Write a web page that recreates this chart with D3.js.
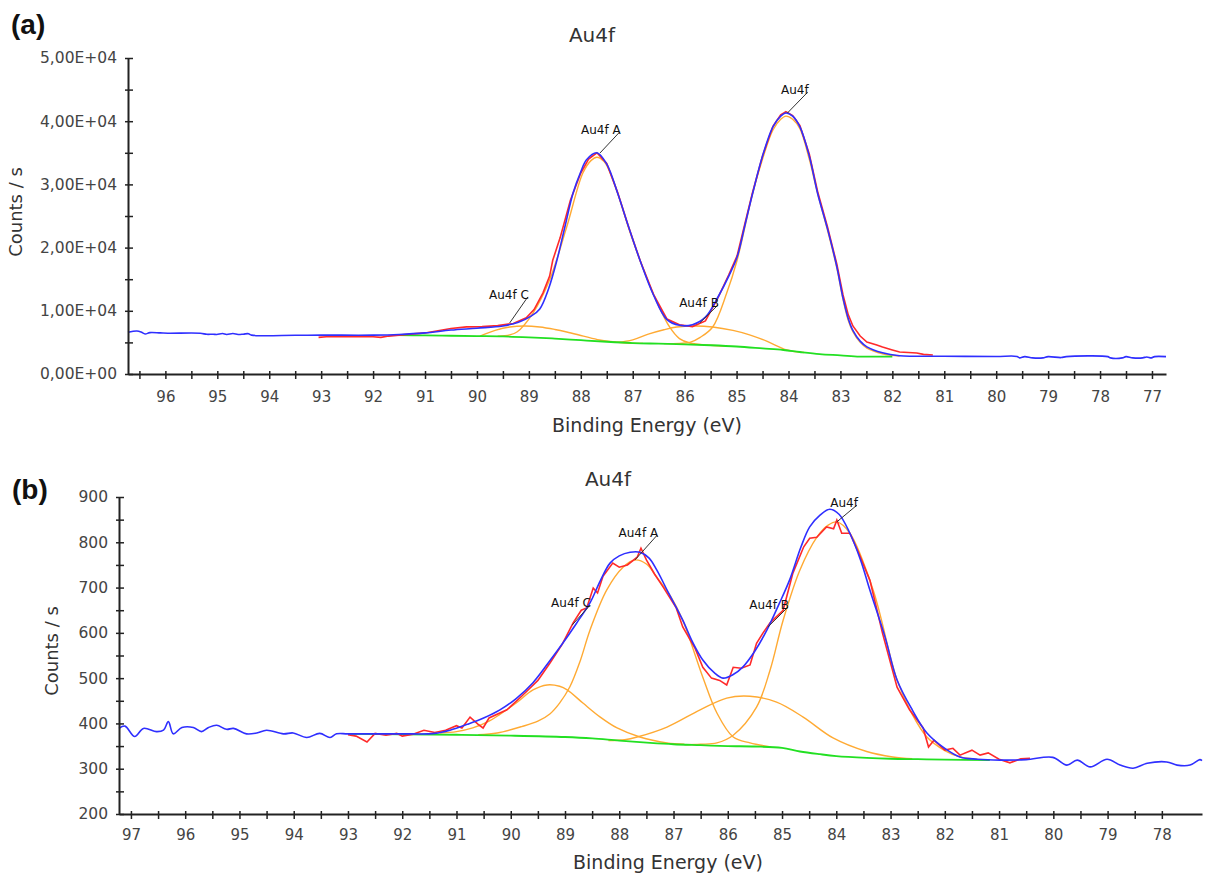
<!DOCTYPE html>
<html><head><meta charset="utf-8">
<script src="https://cdn.jsdelivr.net/npm/d3@7/dist/d3.min.js"></script>
<style>body{margin:0;background:#fff}</style>
</head><body>
<svg id="c" width="1207" height="876"></svg>
<script>
// ---------------- Panel (a) data ----------------
const xTicksA = [96,95,94,93,92,91,90,89,88,87,86,85,84,83,82,81,80,79,78,77];
const yTicksA = [0,10000,20000,30000,40000,50000];
const yTickLabelsA = ["0,00E+00","1,00E+04","2,00E+04","3,00E+04","4,00E+04","5,00E+04"];

const envelopeA = [[96.72,6600],[96.55,6800],[96.47,6650],[96.39,6330],[96.3,6550],[96.1,6500],[95.95,6450],[95.33,6450],[95.2,6280],[95.08,6300],[95.01,6250],[94.9,6400],[94.82,6250],[94.7,6400],[94.6,6250],[94.5,6300],[94.4,6380],[94.34,6150],[93.5,6120],[93.0,6150],[92.0,6150],[91.5,6250],[91.0,6500],[90.5,6950],[90.0,7250],[89.5,7600],[89.2,8200],[88.95,9200],[88.79,10300],[88.62,13500],[88.46,18000],[88.3,23500],[88.15,28600],[88.0,32000],[87.89,33900],[87.69,35000],[87.5,33200],[87.29,28600],[87.08,23300],[86.86,18000],[86.6,12500],[86.34,8600],[86.1,7700],[85.85,7800],[85.6,9000],[85.35,12300],[85.15,15500],[84.99,18500],[84.84,23500],[84.69,28600],[84.5,34500],[84.3,39100],[84.15,40800],[84.05,41300],[83.92,40800],[83.78,39100],[83.6,34500],[83.44,28600],[83.25,23000],[83.07,17000],[82.95,12000],[82.85,8800],[82.76,6900],[82.62,5200],[82.49,4300],[82.19,3350],[81.86,2900],[81.0,2800],[80.0,2780],[79.6,2780],[79.55,2550],[79.45,2750],[79.3,2550],[79.1,2550],[79.0,2750],[78.75,2600],[78.65,2750],[77.85,2750],[77.8,2550],[77.57,2550],[77.5,2750],[77.37,2550],[77.18,2550],[77.1,2700],[77.01,2550],[76.95,2750],[76.73,2750]];
const rawA = [[93.05,5800],[92.9,5900],[92.0,5900],[91.85,5800],[91.7,6000],[91.5,6150],[91.0,6500],[90.5,7200],[90.2,7450],[89.9,7500],[89.6,7650],[89.3,8000],[89.05,8900],[88.9,10200],[88.73,12800],[88.6,15500],[88.54,18000],[88.4,21500],[88.2,27500],[88.0,31800],[87.85,34000],[87.69,35000],[87.5,33300],[87.29,28700],[87.08,23300],[86.86,18000],[86.6,12600],[86.34,8700],[86.1,7800],[85.85,7500],[85.6,8400],[85.35,12200],[85.15,15700],[84.99,18700],[84.84,23800],[84.69,28800],[84.5,34500],[84.3,39200],[84.15,41000],[84.05,41500],[83.92,40900],[83.78,39300],[83.6,34800],[83.44,28900],[83.25,23300],[83.07,17400],[82.95,12500],[82.85,9400],[82.76,7600],[82.62,6000],[82.49,5060],[82.3,4600],[82.19,4270],[82.0,3800],[81.86,3480],[81.53,3320],[81.4,3100],[81.22,3000]];
const backgroundA = [[91.55,6150],[91.0,6100],[90.5,6050],[90.0,6000],[89.5,5950],[89.0,5800],[88.5,5600],[88.0,5350],[87.5,5100],[87.0,4900],[86.5,4800],[86.0,4700],[85.5,4550],[85.0,4350],[84.5,4050],[84.1,3800],[83.78,3480],[83.4,3150],[83.0,2950],[82.63,2750],[82.2,2750],[82.0,2750]];
const au4fCA = [[89.94,6000],[89.65,6900],[89.37,7440],[89.08,7600],[88.79,7440],[88.5,7050],[88.27,6650],[87.95,6000],[87.64,5380],[87.35,5100],[87.12,4900],[86.8,4850]];
const au4fBA = [[87.3,5000],[87.0,5400],[86.7,6300],[86.4,7000],[86.15,7440],[85.8,7600],[85.46,7440],[85.07,6900],[84.75,6200],[84.42,5200],[84.03,3800],[83.7,3400]];
const au4fAA = [[89.6,6000],[89.37,6200],[89.23,6650],[88.92,9650],[88.6,14900],[88.27,23300],[87.96,31800],[87.8,33800],[87.69,34300],[87.55,33600],[87.38,30700],[87.0,21200],[86.61,12800],[86.29,7440],[86.1,5600],[85.9,4900],[85.5,4550],[85.2,4400]];
const au4fA = [[86.4,4800],[86.1,4850],[85.9,5000],[85.7,5800],[85.46,7440],[85.19,12800],[84.99,18000],[84.69,28600],[84.5,34000],[84.3,38600],[84.15,40300],[84.05,40800],[83.92,40300],[83.78,38800],[83.6,34000],[83.44,28600],[83.25,22800],[83.07,16800],[82.95,11800],[82.85,8500],[82.76,6700],[82.62,5000],[82.49,4100],[82.19,3200],[81.86,2850]];
const labelsA = [
  {text:"Au4f A", from:[87.25,38300], to:[87.63,34970]},
  {text:"Au4f",   from:[83.63,44600], to:[84.02,41300]},
  {text:"Au4f C", from:[89.02,12200], to:[89.37,8070]},
  {text:"Au4f B", from:[85.36,10900], to:[85.71,8070]}
];

// ---------------- Panel (b) data ----------------
const xTicksB = [97,96,95,94,93,92,91,90,89,88,87,86,85,84,83,82,81,80,79,78];
const yTicksB = [200,300,400,500,600,700,800,900];
const yTickLabelsB = ["200","300","400","500","600","700","800","900"];

const envelopeB = [[97.22,389],[97.11,394],[96.93,371],[96.77,389],[96.53,382],[96.4,385],[96.31,404],[96.22,377],[96.06,391],[95.85,391],[95.7,382],[95.57,391],[95.42,396],[95.24,387],[95.11,389],[94.87,377],[94.68,379],[94.5,385],[94.19,377],[94.01,379],[93.76,369],[93.52,378],[93.33,369],[93.21,377],[93.0,377],[92.0,377],[91.4,378],[91.12,385],[90.8,398],[90.5,412],[90.2,430],[89.9,455],[89.59,490],[89.3,535],[88.96,591],[88.75,628],[88.54,666],[88.35,715],[88.17,754],[88.0,770],[87.8,778],[87.62,778],[87.45,765],[87.31,739],[87.1,690],[86.83,628],[86.65,580],[86.46,540],[86.25,512],[86.09,500],[85.9,508],[85.72,525],[85.5,560],[85.28,606],[85.05,665],[84.86,717],[84.65,790],[84.49,834],[84.3,860],[84.12,873],[83.95,862],[83.75,820],[83.55,760],[83.38,694],[83.1,590],[82.88,496],[82.6,430],[82.33,379],[82.0,345],[81.72,326],[81.4,321],[80.98,319],[80.5,320],[80.01,325],[79.75,308],[79.56,319],[79.32,304],[79.01,321],[78.77,308],[78.53,301],[78.27,312],[77.91,315],[77.72,308],[77.48,308],[77.3,320],[77.26,318]];
const rawB = [[93.0,375],[92.85,372],[92.65,359],[92.5,378],[92.3,374],[92.1,378],[92.0,372],[91.8,376],[91.6,385],[91.4,380],[91.2,385],[91.0,395],[90.9,390],[90.75,414],[90.6,398],[90.51,390],[90.4,412],[90.07,430],[89.8,460],[89.5,495],[89.28,533],[89.05,575],[88.85,622],[88.7,650],[88.6,655],[88.48,699],[88.4,688],[88.3,725],[88.12,754],[88.0,745],[87.85,750],[87.67,767],[87.6,787],[87.5,761],[87.35,730],[87.19,701],[86.95,655],[86.83,613],[86.6,565],[86.46,524],[86.3,500],[86.15,495],[86.02,485],[85.9,524],[85.75,522],[85.59,529],[85.47,577],[85.35,600],[85.22,622],[84.98,650],[84.8,732],[84.6,790],[84.49,809],[84.36,811],[84.18,834],[84.05,830],[83.99,849],[83.9,820],[83.75,820],[83.6,780],[83.38,716],[83.15,600],[82.88,480],[82.65,430],[82.4,390],[82.3,348],[82.2,363],[82.0,341],[81.85,345],[81.72,330],[81.5,341],[81.35,330],[81.2,335],[81.0,321],[80.8,313],[80.6,322],[80.43,323]];
const backgroundB = [[93.0,377],[92.0,376],[91.0,375],[90.0,373],[89.0,370],[88.5,367],[88.0,362],[87.43,357],[87.0,354],[86.5,352],[86.0,350],[85.5,349],[85.0,346],[84.67,338],[84.3,332],[84.0,328],[83.44,324],[83.0,322],[82.5,321],[82.0,320],[81.17,319]];
const au4fCB = [[91.3,379],[91.0,382],[90.7,390],[90.4,405],[90.2,420],[89.9,445],[89.59,474],[89.33,485],[89.1,482],[88.96,474],[88.67,445],[88.35,414],[88.04,390],[87.62,370],[87.12,357],[86.8,354]];
const au4fAB = [[90.6,375],[90.25,379],[89.8,393],[89.5,405],[89.28,421],[89.1,445],[88.91,481],[88.72,538],[88.54,606],[88.23,695],[87.93,745],[87.71,761],[87.5,752],[87.31,723],[87.05,680],[86.83,628],[86.46,502],[86.2,423],[85.9,370],[85.59,357],[85.2,348]];
const au4fBB = [[88.2,362],[87.9,364],[87.67,370],[87.12,392],[86.51,430],[86.02,456],[85.59,460],[85.1,447],[84.61,414],[84.06,368],[83.44,338],[82.96,326],[82.6,322]];
const au4fB = [[86.8,353],[86.5,354],[86.2,357],[85.9,374],[85.47,436],[85.22,518],[84.98,628],[84.67,739],[84.36,811],[84.15,838],[83.99,845],[83.75,820],[83.32,694],[82.88,496],[82.6,420],[82.33,370],[82.0,340],[81.72,326],[81.4,321]];
const labelsB = [
  {text:"Au4f A", from:[87.30,816], to:[87.71,761]},
  {text:"Au4f",   from:[83.62,882], to:[83.99,845]},
  {text:"Au4f C", from:[88.54,661], to:[88.87,617]},
  {text:"Au4f B", from:[84.89,657], to:[85.26,613]}
];

// ---------------- drawing ----------------
const FONT = "DejaVu Sans";
const svg = d3.select("#c");

function panel(p){
  const x = d3.scaleLinear().domain(p.xDomain).range(p.xRange);
  const y = d3.scaleLinear().domain(p.yDomain).range(p.yRange);
  const g = svg.append("g");
  const line = d3.line().x(d=>x(d[0])).y(d=>y(d[1])).curve(d3.curveCatmullRom.alpha(0.5));
  const rawLine = d3.line().x(d=>x(d[0])).y(d=>y(d[1]));

  p.comps.forEach(c => g.append("path").attr("d", line(c)).attr("fill","none")
     .attr("stroke","#ffaa33").attr("stroke-width",1.4));
  g.append("path").attr("d", line(p.bg)).attr("fill","none").attr("stroke","#22e022").attr("stroke-width",1.8);
  g.append("path").attr("d", rawLine(p.raw)).attr("fill","none").attr("stroke","#ff2a2a").attr("stroke-width",1.6);
  g.append("path").attr("d", line(p.env)).attr("fill","none").attr("stroke","#2f2fff").attr("stroke-width",1.6);

  // annotations
  p.labels.forEach(l => {
    g.append("line").attr("x1",x(l.from[0])).attr("y1",y(l.from[1]))
      .attr("x2",x(l.to[0])).attr("y2",y(l.to[1])).attr("stroke","#333").attr("stroke-width",1);
    g.append("text").attr("x",x(l.from[0])+1).attr("y",y(l.from[1])+2)
      .attr("text-anchor","end").attr("font-family",FONT).attr("font-size",12)
      .attr("fill","#111").text(l.text);
  });

  // x axis
  const xMaj = p.xTicks;
  const xAll = [];
  xMaj.forEach(v => { xAll.push(v); xAll.push(v+0.5); });
  const xVals = xAll.filter(v => v <= Math.max(...p.xDomain) && v >= Math.min(...p.xDomain));
  const ax = g.append("g").attr("transform",`translate(0,${p.yRange[0]})`)
    .call(d3.axisBottom(x).tickValues(xVals).tickSizeInner(5).tickSizeOuter(0).tickPadding(p.xPad)
      .tickFormat(d => xMaj.includes(d) ? String(d) : ""));
  ax.selectAll(".tick line").attr("y1",-3).attr("y2",5).attr("stroke","#222").attr("stroke-width",1.5);
  ax.select(".domain").attr("stroke","#222").attr("stroke-width",2);
  ax.selectAll("text").attr("font-family",FONT).attr("font-size",15).attr("fill","#444");

  // y axis
  const yMaj = p.yTicks;
  const step = yMaj[1]-yMaj[0];
  const yVals = [];
  yMaj.forEach((v,i) => { yVals.push(v); if (i < yMaj.length-1) yVals.push(v+step/2); });
  const ay = g.append("g").attr("transform",`translate(${p.xRange[0]},0)`)
    .call(d3.axisLeft(y).tickValues(yVals).tickSizeInner(3).tickSizeOuter(0).tickPadding(8)
      .tickFormat(d => { const i = yMaj.indexOf(d); return i >= 0 ? p.yLabels[i] : ""; }));
  ay.selectAll(".tick line").attr("x1",-3).attr("x2",5).attr("stroke","#222").attr("stroke-width",1.5);
  ay.select(".domain").attr("stroke","#222").attr("stroke-width",2);
  ay.selectAll("text").attr("font-family",FONT).attr("font-size",15.5).attr("fill","#444");

  // titles
  svg.append("text").attr("x",p.title[0]).attr("y",p.title[1]).attr("text-anchor","middle")
    .attr("font-family",FONT).attr("font-size",20).attr("fill","#333").text("Au4f");
  svg.append("text").attr("x",p.xTitle[0]).attr("y",p.xTitle[1]).attr("text-anchor","middle")
    .attr("font-family",FONT).attr("font-size",19).attr("fill","#333").text("Binding Energy (eV)");
  svg.append("text").attr("transform",`translate(${p.yTitle[0]},${p.yTitle[1]}) rotate(-90)`)
    .attr("text-anchor","middle").attr("font-family",FONT).attr("font-size",18).attr("fill","#333").text("Counts / s");
  svg.append("text").attr("x",p.tag[0]).attr("y",p.tag[1]).attr("font-family","Liberation Sans, Arial")
    .attr("font-weight","bold").attr("font-size",28).attr("fill","#111").text(p.tagText);
}

panel({
  xDomain:[96.72,76.73], xRange:[128,1166], yDomain:[0,50000], yRange:[374,58],
  comps:[au4fCA, au4fBA, au4fAA, au4fA], bg:backgroundA, raw:rawA, env:envelopeA,
  labels:labelsA, xTicks:xTicksA, yTicks:yTicksA, yLabels:yTickLabelsA, xPad:12,
  title:[592,42], xTitle:[647,432], yTitle:[22,212], tag:[11,34], tagText:"(a)"
});
panel({
  xDomain:[97.22,77.26], xRange:[119,1202], yDomain:[200,900], yRange:[814,497],
  comps:[au4fCB, au4fBB, au4fAB, au4fB], bg:backgroundB, raw:rawB, env:envelopeB,
  labels:labelsB, xTicks:xTicksB, yTicks:yTicksB, yLabels:yTickLabelsB, xPad:10,
  title:[608,486], xTitle:[668,869], yTitle:[58,651], tag:[12,499], tagText:"(b)"
});
</script>
</body></html>
